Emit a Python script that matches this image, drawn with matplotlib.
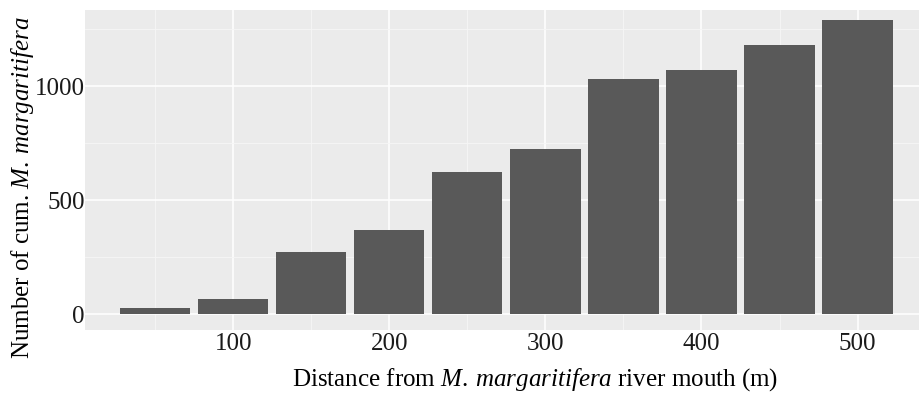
import matplotlib
matplotlib.use("Agg")
import matplotlib.pyplot as plt
from matplotlib.ticker import MultipleLocator

# cumulative counts of M. margaritifera by distance from river mouth
distance = [50, 100, 150, 200, 250, 300, 350, 400, 450, 500]
cum_count = [30, 69, 274, 372, 625, 727, 1031, 1071, 1181, 1291]
x_ticks = [100, 200, 300, 400, 500]
y_ticks = [0, 500, 1000]

plt.rcParams["font.family"] = ["Liberation Serif", "DejaVu Serif"]
plt.rcParams["mathtext.fontset"] = "custom"
plt.rcParams["mathtext.rm"] = "Liberation Serif"
plt.rcParams["mathtext.it"] = "Liberation Serif:italic"

W, H = 920, 396
fig = plt.figure(figsize=(W / 100, H / 100), dpi=100)
# panel box in pixels: left 85, right 920, top 10, bottom 330
ax = fig.add_axes([85 / W, 1 - 330 / H, (920 - 85) / W, (330 - 10) / H])

ax.set_facecolor("#EBEBEB")
for s in ax.spines.values():
    s.set_visible(False)

ax.bar(distance, cum_count, width=45, color="#595959", zorder=3)

ax.set_xlim(5, 540)
ax.set_ylim(-68, 1335)

ax.set_xticks(x_ticks)
ax.set_yticks(y_ticks)
ax.xaxis.set_minor_locator(MultipleLocator(50))
ax.yaxis.set_minor_locator(MultipleLocator(250))
ax.grid(which="major", color="white", lw=1.1, zorder=1)
ax.grid(which="minor", color="#F6F6F6", lw=0.6, zorder=1)
ax.tick_params(which="both", length=0, labelsize=18, colors="#1a1a1a")
ax.tick_params(axis="x", pad=2)
ax.tick_params(axis="y", pad=0)

ax.set_xlabel(r"Distance from $\mathit{M.}\:\mathit{margaritifera}$ river mouth (m)",
              fontsize=18)
ax.xaxis.set_label_coords((535 - 85) / 835, -(380 - 330) / 320)
ax.xaxis.label.set_va("center")
ax.set_ylabel(r"Number of cum. $\mathit{M.}\:\mathit{margaritifera}$", fontsize=18)
ax.yaxis.set_label_coords(-(85 - 23) / 835, (330 - 188) / 320)
ax.yaxis.label.set_va("center")

fig.savefig("out.png", dpi=100)
